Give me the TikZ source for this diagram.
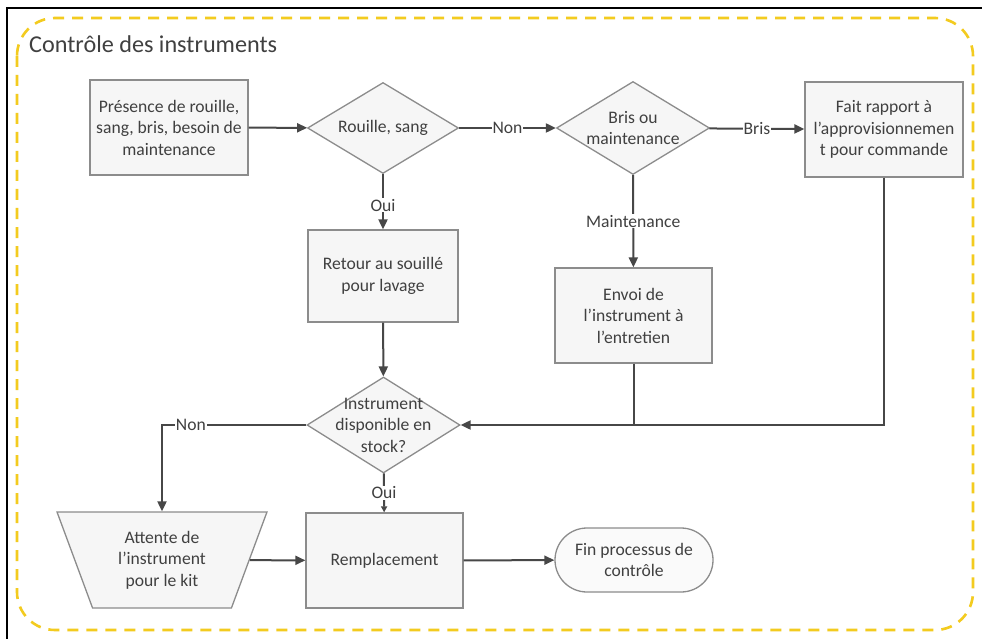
\documentclass[tikz,border=0pt]{standalone}
\usepackage{fontspec}
\setmainfont{Carlito}
\usetikzlibrary{shapes.geometric,arrows.meta}
\definecolor{txt}{HTML}{404040}
\definecolor{linec}{HTML}{474747}
\definecolor{bord}{HTML}{8C8C8C}
\definecolor{boxfill}{HTML}{F6F6F6}
\definecolor{gold}{HTML}{F3CB1F}
\newcommand{\bodyfont}{\fontsize{17.6}{21.5}\selectfont}
\newcommand{\ttlfont}{\fontsize{24.2}{28}\selectfont}
\begin{document}
\begin{tikzpicture}[x=1pt,y=-1pt,
  shapebase/.style={draw=bord, line width=1.3pt, fill=boxfill,
    text=txt, font=\bodyfont, align=center, inner sep=0pt},
  procbox/.style={shapebase, rectangle},
  decis/.style={shapebase, diamond},
  trapbox/.style={shapebase, trapezium, shape border rotate=180, trapezium stretches=true,
    trapezium left angle=68.9, trapezium right angle=68.9},
  termbox/.style={shapebase, rectangle, rounded corners=32pt, fill=white!50!boxfill},
  conn/.style={draw=linec, line width=2pt, -{Triangle[length=10pt,width=9pt]}},
  plainconn/.style={draw=linec, line width=2pt},
  lbl/.style={fill=white, text=txt, font=\bodyfont, inner sep=1pt},
  dtext/.style={text=txt, font=\bodyfont, align=center, inner sep=0pt}
]
\useasboundingbox (0,0) rectangle (982,639);
\fill[white] (0,0) rectangle (982,639);
\draw[black, line width=1.5pt] (7,639) -- (7,8) -- (982,8);
\draw[gold, line width=2.6pt, dash pattern=on 11pt off 8pt, rounded corners=38pt] (17,18) rectangle (973,630);

\node[anchor=west, text=txt, font=\ttlfont, inner sep=0pt] (title) at (29,44) {Contrôle des instruments};

\node[procbox, minimum width=158pt, minimum height=95pt] (b1) at (169,127.5) {Présence de rouille,\\sang, bris, besoin de\\maintenance};
\node[decis, minimum width=151pt, minimum height=91pt] (d1) at (383,128) {};
\node[dtext] at (d1) {Rouille, sang};
\node[decis, minimum width=153pt, minimum height=93pt] (d2) at (633,128) {};
\node[dtext] at (d2) {Bris ou\\maintenance};
\node[procbox, minimum width=158pt, minimum height=95pt] (b2) at (884,129.5) {Fait rapport à\\l’approvisionnemen\\t pour commande};
\node[procbox, minimum width=150pt, minimum height=92pt] (ret) at (383,276) {Retour au souillé\\pour lavage};
\node[procbox, minimum width=157pt, minimum height=95pt] (env) at (633.5,315.5) {Envoi de\\l’instrument à\\l’entretien};
\node[decis, minimum width=153pt, minimum height=96pt] (d3) at (383.5,425) {};
\node[dtext] at (d3) {Instrument\\disponible en\\stock?};
\node[trapbox, minimum width=210pt, minimum height=96pt] (trap) at (162,560) {Attente de\\l’instrument\\pour le kit};
\node[procbox, minimum width=157pt, minimum height=95pt] (rep) at (384.5,560.5) {Remplacement};
\node[termbox, minimum width=158pt, minimum height=64pt] (fin) at (634,560) {Fin processus de\\contrôle};

\draw[conn] (b1) -- (d1);
\draw[conn] (d1) -- node[lbl, pos=0.5] {Non} (d2);
\draw[conn] (d2) -- node[lbl, pos=0.5] {Bris} (b2);
\draw[conn] (d1) -- node[lbl, pos=0.56] {Oui} (ret);
\draw[conn] (d2) -- node[lbl, pos=0.5] {Maintenance} (env);
\draw[conn] (ret) -- (d3);
\draw[plainconn] (env.south) -- (env.south |- d3);
\draw[conn] (b2.south) |- (d3);
\draw[conn] (d3) -| node[lbl, pos=0.40] {Non} (trap);
\draw[conn, -{Triangle[length=6pt,width=6pt]}] (d3) -- node[lbl, pos=0.5] {Oui} (rep);
\draw[conn] (trap) -- (rep);
\draw[conn] (rep) -- (fin);
\end{tikzpicture}
\end{document}
